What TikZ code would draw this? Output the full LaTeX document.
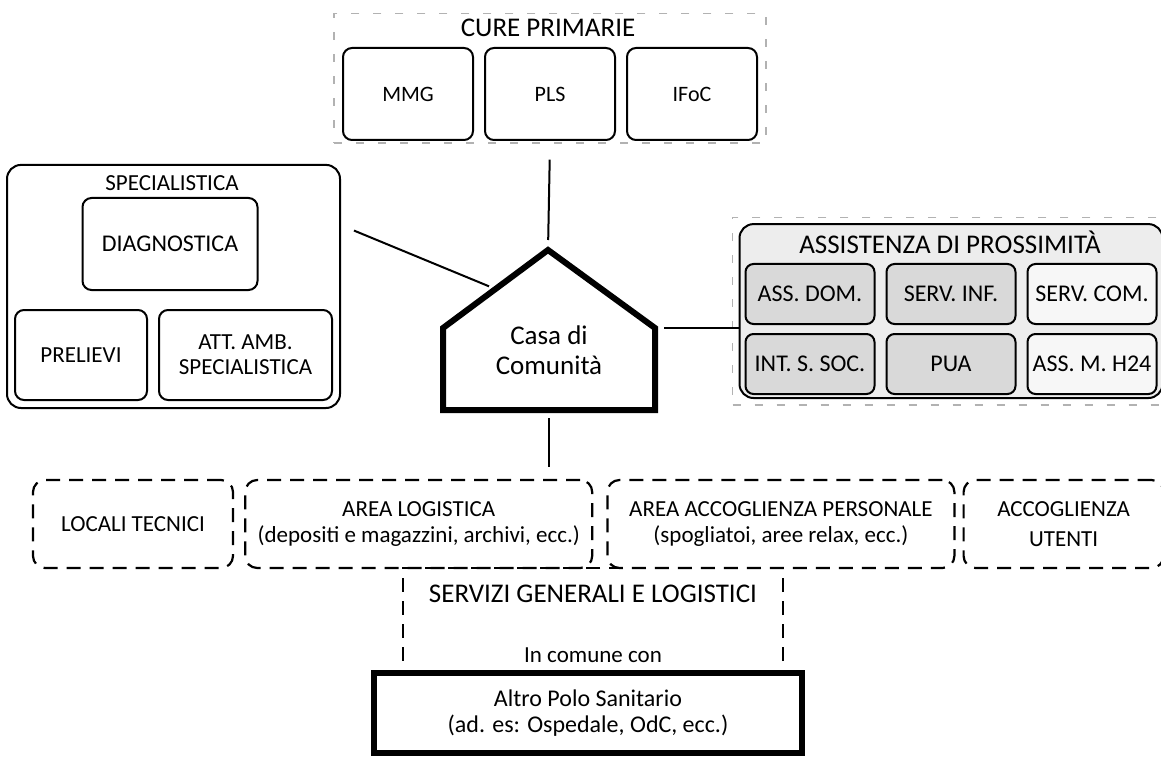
\documentclass[tikz,border=0pt]{standalone}
\usepackage{fontspec}
\setmainfont{Carlito}
\usetikzlibrary{positioning,fit,calc,backgrounds}

\begin{document}
\begin{tikzpicture}[x=1pt, y=-1pt,
      every node/.style={font=\fontsize{23}{26}\selectfont, align=center},
      title/.style={font=\fontsize{27}{30}\selectfont},
      unit/.style={draw, line width=2pt, rounded corners=9pt,
                   minimum width=130pt, minimum height=90pt, inner sep=2pt},
      abox/.style={draw, line width=2pt, rounded corners=8pt,
                   minimum width=129pt, minimum height=60pt, inner sep=1pt,
                   font=\fontsize{24}{26}\selectfont},
      group/.style={draw, line width=2pt, rounded corners=14pt},
      faint/.style={draw=gray!60, line width=1.2pt, dash pattern=on 8pt off 14pt},
      dbox/.style={draw, line width=2.2pt, dash pattern=on 14pt off 9pt,
                   rounded corners=12pt, minimum height=88pt, inner sep=2pt},
      heavy/.style={draw, line width=6pt},
      conn/.style={line width=2pt}
  ]
    \useasboundingbox (0,0) rectangle (1161,759);

    % cure primarie
    \node[title] (curetit) at (548,28) {CURE PRIMARIE};
    \node[unit, minimum height=92pt, font=\fontsize{22}{24}\selectfont] (mmg) at (408,94) {MMG};
    \node[unit, minimum height=92pt, font=\fontsize{22}{24}\selectfont, right=10pt of mmg] (pls) {PLS};
    \node[unit, minimum height=92pt, font=\fontsize{22}{24}\selectfont, right=10pt of pls] (ifoc) {IFoC};
    \node[faint, fit=(mmg)(ifoc)(curetit), inner xsep=8pt, inner ysep=2pt] (cure) {};

    % specialistica
    \node (spectit) at (172,183) {SPECIALISTICA};
    \node[unit, minimum width=175pt, minimum height=92pt, font=\fontsize{24}{26}\selectfont] (diag) at (170,244) {DIAGNOSTICA};
    \node[unit, minimum width=132pt] (prel) at (81,355) {PRELIEVI};
    \node[unit, minimum width=173pt, right=10pt of prel, font=\fontsize{23}{25}\selectfont] (attamb) {ATT. AMB.\\SPECIALISTICA};
    \node[group, fit=(prel)(attamb)(diag)(spectit), inner sep=7pt] (spec) {};

    % assistenza di prossimita
    \node[title] (assisttit) at (950,242) {ASSISTENZA DI PROSSIMITÀ};
    \node[abox, fill=gray!30] (assdom) at (810,294) {ASS. DOM.};
    \node[abox, fill=gray!30, right=10pt of assdom] (servinf) {SERV. INF.};
    \node[abox, fill=gray!6, right=10pt of servinf] (servcom) {SERV. COM.};
    \node[abox, fill=gray!30, below=8pt of assdom] (intsoc) {INT. S. SOC.};
    \node[abox, fill=gray!30, right=10pt of intsoc] (pua) {PUA};
    \node[abox, fill=gray!6, right=10pt of pua] (assm) {ASS. M. H24};
    \begin{scope}[on background layer]
      \fill[white] (0,0) rectangle (1161,759);
      \node[group, fill=gray!14, fit=(assdom)(assm)(assisttit), inner xsep=5pt, inner ysep=3pt] (assist) {};
    \end{scope}
    \node[faint, fit=(assist), inner sep=6pt] (assistout) {};

    % casa di comunita
    \coordinate (hapex) at (548,250);
    \coordinate (hl) at (443,328);
    \coordinate (hbl) at (443,410);
    \coordinate (hbr) at (655,410);
    \coordinate (hr) at (655,328);
    \coordinate (hbase) at (549,410);
    \draw[line width=6pt, line join=miter] (hapex) -- (hr) -- (hbr) -- (hbl) -- (hl) -- cycle;
    \node[font=\fontsize{27}{30}\selectfont] (casa) at (549,350) {Casa di\\Comunità};

    % servizi generali
    \node[dbox, minimum width=200pt] (locali) at (133,524) {LOCALI TECNICI};
    \node[dbox, minimum width=347pt, right=10pt of locali] (logist) {AREA LOGISTICA\\(depositi e magazzini, archivi, ecc.)};
    \node[dbox, minimum width=347pt, right=13pt of logist] (accpers) {AREA ACCOGLIENZA PERSONALE\\(spogliatoi, aree relax, ecc.)};
    \node[dbox, minimum width=200pt, right=7pt of accpers, font=\fontsize{23}{30}\selectfont] (accut) {ACCOGLIENZA\\UTENTI};
    \node[dbox, rounded corners=0pt, minimum width=380pt, minimum height=104pt] (serv) at (593,620) {};
    \node[title] (servtit) at (593,594) {SERVIZI GENERALI E LOGISTICI};
    \node (incom) at (593,655) {In comune con};
    \node[heavy, fill=white, minimum width=428pt, minimum height=80pt, font=\fontsize{24}{26}\selectfont] (altro) at (588,713) {Altro Polo Sanitario\\(ad. es: Ospedale, OdC, ecc.)};

    \draw[conn, shorten <=16pt, shorten >=10pt] (cure.south) -- (hapex);
    \draw[conn, shorten <=14pt, shorten >=7pt] ($(spec.north east)!0.25!(spec.south east)$) -- ($(hl)!0.5!(hapex)$);
    \draw[conn, shorten <=9pt] (hr) -- (hr -| assist.west);
    \draw[conn, shorten <=8pt, shorten >=12pt] (hbase) -- (hbase |- logist.north);
  \end{tikzpicture}
\end{document}
